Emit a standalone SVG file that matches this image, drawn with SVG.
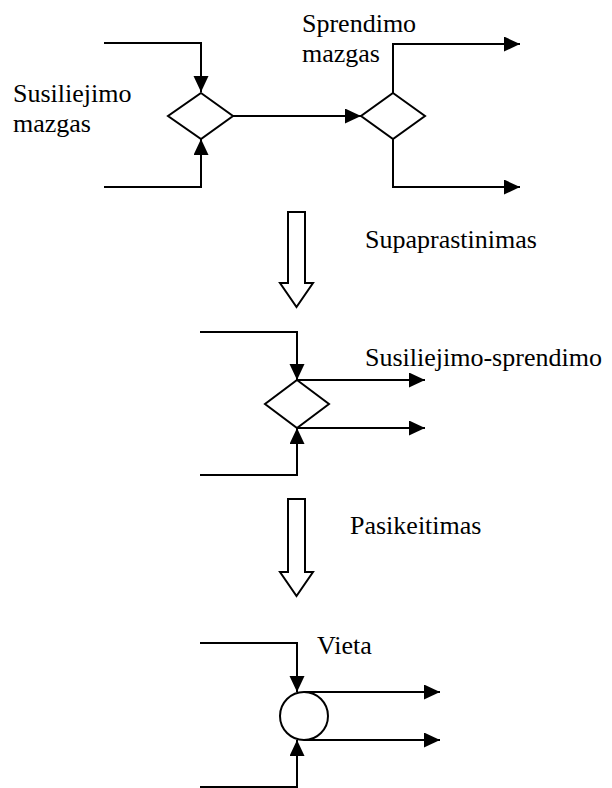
<svg xmlns="http://www.w3.org/2000/svg" width="612" height="788" viewBox="0 0 612 788">
  <defs>
    <marker id="arrow" markerUnits="userSpaceOnUse" markerWidth="16" markerHeight="16" refX="16" refY="7.5" orient="auto">
      <path d="M0,0 L16,7.5 L0,15 Z" fill="#000"/>
    </marker>
  </defs>
  <style>
    .line { fill: none; stroke: #000; stroke-width: 2; }
    .shape { fill: #fff; stroke: #000; stroke-width: 2; }
    .label { font-family: "Liberation Serif", "Times New Roman", serif; font-size: 26px; fill: #000; }
  </style>
  <rect width="612" height="788" fill="#fff"/>

  <!-- connectors -->
  <g id="connectors">
    <!-- top section: merge node then decision node -->
    <path class="line" d="M104,43 H201 V92" marker-end="url(#arrow)"/>
    <path class="line" d="M104,187 H201 V139" marker-end="url(#arrow)"/>
    <path class="line" d="M233,116 H361" marker-end="url(#arrow)"/>
    <path class="line" d="M393,93 V44 H520" marker-end="url(#arrow)"/>
    <path class="line" d="M393,139 V187 H520" marker-end="url(#arrow)"/>

    <!-- middle section: merged merge/decision node -->
    <path class="line" d="M200,332 H297 V380" marker-end="url(#arrow)"/>
    <path class="line" d="M200,475 H297 V428" marker-end="url(#arrow)"/>
    <path class="line" d="M297,380 H425" marker-end="url(#arrow)"/>
    <path class="line" d="M297,428 H425" marker-end="url(#arrow)"/>

    <!-- bottom section: place -->
    <path class="line" d="M200,643 H297 V692" marker-end="url(#arrow)"/>
    <path class="line" d="M200,787 H297 V740" marker-end="url(#arrow)"/>
    <path class="line" d="M304,692 H440" marker-end="url(#arrow)"/>
    <path class="line" d="M304,740 H440" marker-end="url(#arrow)"/>
  </g>

  <!-- transformation arrows -->
  <g id="step-simplify">
    <path class="shape" d="M288,212 H305 V283 H313 L296.5,307 L280,283 H288 Z"/>
  </g>
  <g id="step-change">
    <path class="shape" d="M288,499 H305 V572 H313 L296.5,596 L280,572 H288 Z"/>
  </g>

  <!-- nodes -->
  <g id="merge-node">
    <path class="shape" d="M201,93 L233,116 L201,139 L168,116 Z"/>
  </g>
  <g id="decision-node">
    <path class="shape" d="M393,93 L425,116 L393,139 L361,116 Z"/>
  </g>
  <g id="merge-decision-node">
    <path class="shape" d="M297,380 L329,404 L297,428 L265,404 Z"/>
  </g>
  <g id="place-node">
    <circle class="shape" cx="304" cy="716" r="24"/>
  </g>

  <!-- labels -->
  <g id="labels">
    <text class="label" x="13" y="102">Susiliejimo</text>
    <text class="label" x="13" y="132">mazgas</text>
    <text class="label" x="302" y="32">Sprendimo</text>
    <text class="label" x="302" y="62">mazgas</text>
    <text class="label" x="365" y="248">Supaprastinimas</text>
    <text class="label" x="365" y="366">Susiliejimo-sprendimo</text>
    <text class="label" x="350" y="534">Pasikeitimas</text>
    <text class="label" x="317" y="654">Vieta</text>
  </g>
</svg>
